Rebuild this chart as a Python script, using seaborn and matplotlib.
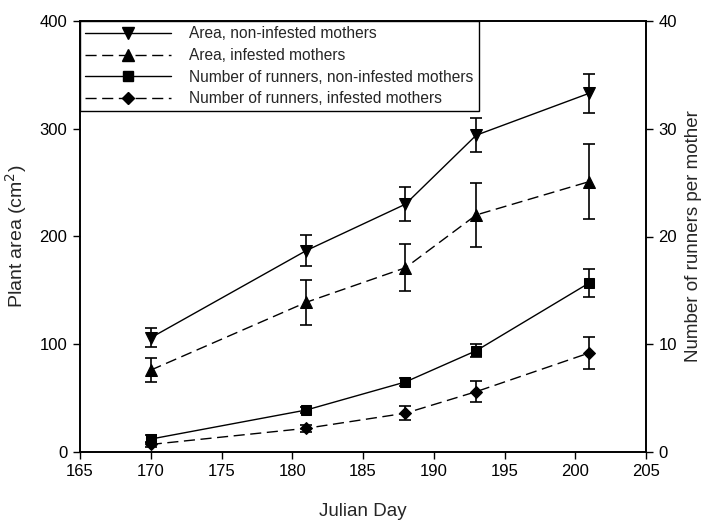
import numpy as np
import pandas as pd
import seaborn as sns
import matplotlib.pyplot as plt
from matplotlib.lines import Line2D

days = [170, 181, 188, 193, 201]

area_non = [106, 187, 230, 294, 333]
area_non_err = [9, 14, 16, 16, 18]
area_inf = [76, 139, 171, 220, 251]
area_inf_err = [11, 21, 22, 30, 35]

run_non = [1.2, 3.9, 6.5, 9.4, 15.7]
run_non_err = [0.35, 0.3, 0.4, 0.6, 1.3]
run_inf = [0.7, 2.2, 3.6, 5.6, 9.2]
run_inf_err = [0.25, 0.35, 0.65, 1.0, 1.5]

labels = ["Area, non-infested mothers", "Area, infested mothers",
          "Number of runners, non-infested mothers", "Number of runners, infested mothers"]

sns.set_style("ticks")
plt.rcParams['font.family'] = ['Liberation Sans', 'DejaVu Sans']

fig = plt.figure(figsize=(7.09, 5.21), dpi=100)
ax = fig.add_axes([80 / 709, 69 / 521, 566 / 709, 431 / 521])
ax2 = ax.twinx()

dash = (8, 4)

def draw(axis, y, err, marker, dashed, ms):
    df = pd.DataFrame({"day": days, "val": y})
    ls = (0, dash) if dashed else "-"
    sns.lineplot(data=df, x="day", y="val", ax=axis, color="black", lw=1,
                 linestyle=ls, marker=marker, markersize=ms,
                 markeredgecolor="black", markerfacecolor="black")
    axis.errorbar(days, y, yerr=err, fmt="none", ecolor="black",
                  elinewidth=1.2, capsize=4, capthick=1.2)

draw(ax, area_non, area_non_err, "v", False, 8)
draw(ax, area_inf, area_inf_err, "^", True, 8)
draw(ax2, run_non, run_non_err, "s", False, 7)
draw(ax2, run_inf, run_inf_err, "D", True, 6)

ax.set_xlim(165, 205)
ax.set_ylim(0, 400)
ax2.set_ylim(0, 40)
ax.set_xticks(range(165, 206, 5))
ax.set_yticks(range(0, 401, 100))
ax2.set_yticks(range(0, 41, 10))

ax.set_xlabel("Julian Day", fontsize=13.5, labelpad=17)
ax.set_ylabel("Plant area (cm$^2$)", fontsize=14, labelpad=8)
ax2.set_ylabel("Number of runners per mother", fontsize=13.5, labelpad=6)

for a in (ax, ax2):
    a.tick_params(direction="out", length=5, width=1, labelsize=12, colors="black", pad=4)
    for s in a.spines.values():
        s.set_linewidth(1.2)
        s.set_color("black")

handles = [
    Line2D([], [], color="black", lw=1, marker="v", markersize=8),
    Line2D([], [], color="black", lw=1, linestyle=(0, dash), marker="^", markersize=8),
    Line2D([], [], color="black", lw=1, marker="s", markersize=7),
    Line2D([], [], color="black", lw=1, linestyle=(0, dash), marker="D", markersize=6),
]
leg = ax.legend(handles, labels, loc="upper left", bbox_to_anchor=(0, 1),
                frameon=True, fancybox=False, edgecolor="black", fontsize=11.2,
                handlelength=5.5, borderaxespad=0, borderpad=0.35, labelspacing=0.42,
                handletextpad=1.15)
leg.get_frame().set_linewidth(1)
leg.get_frame().set_alpha(1)

fig.savefig("out.png", dpi=100)
